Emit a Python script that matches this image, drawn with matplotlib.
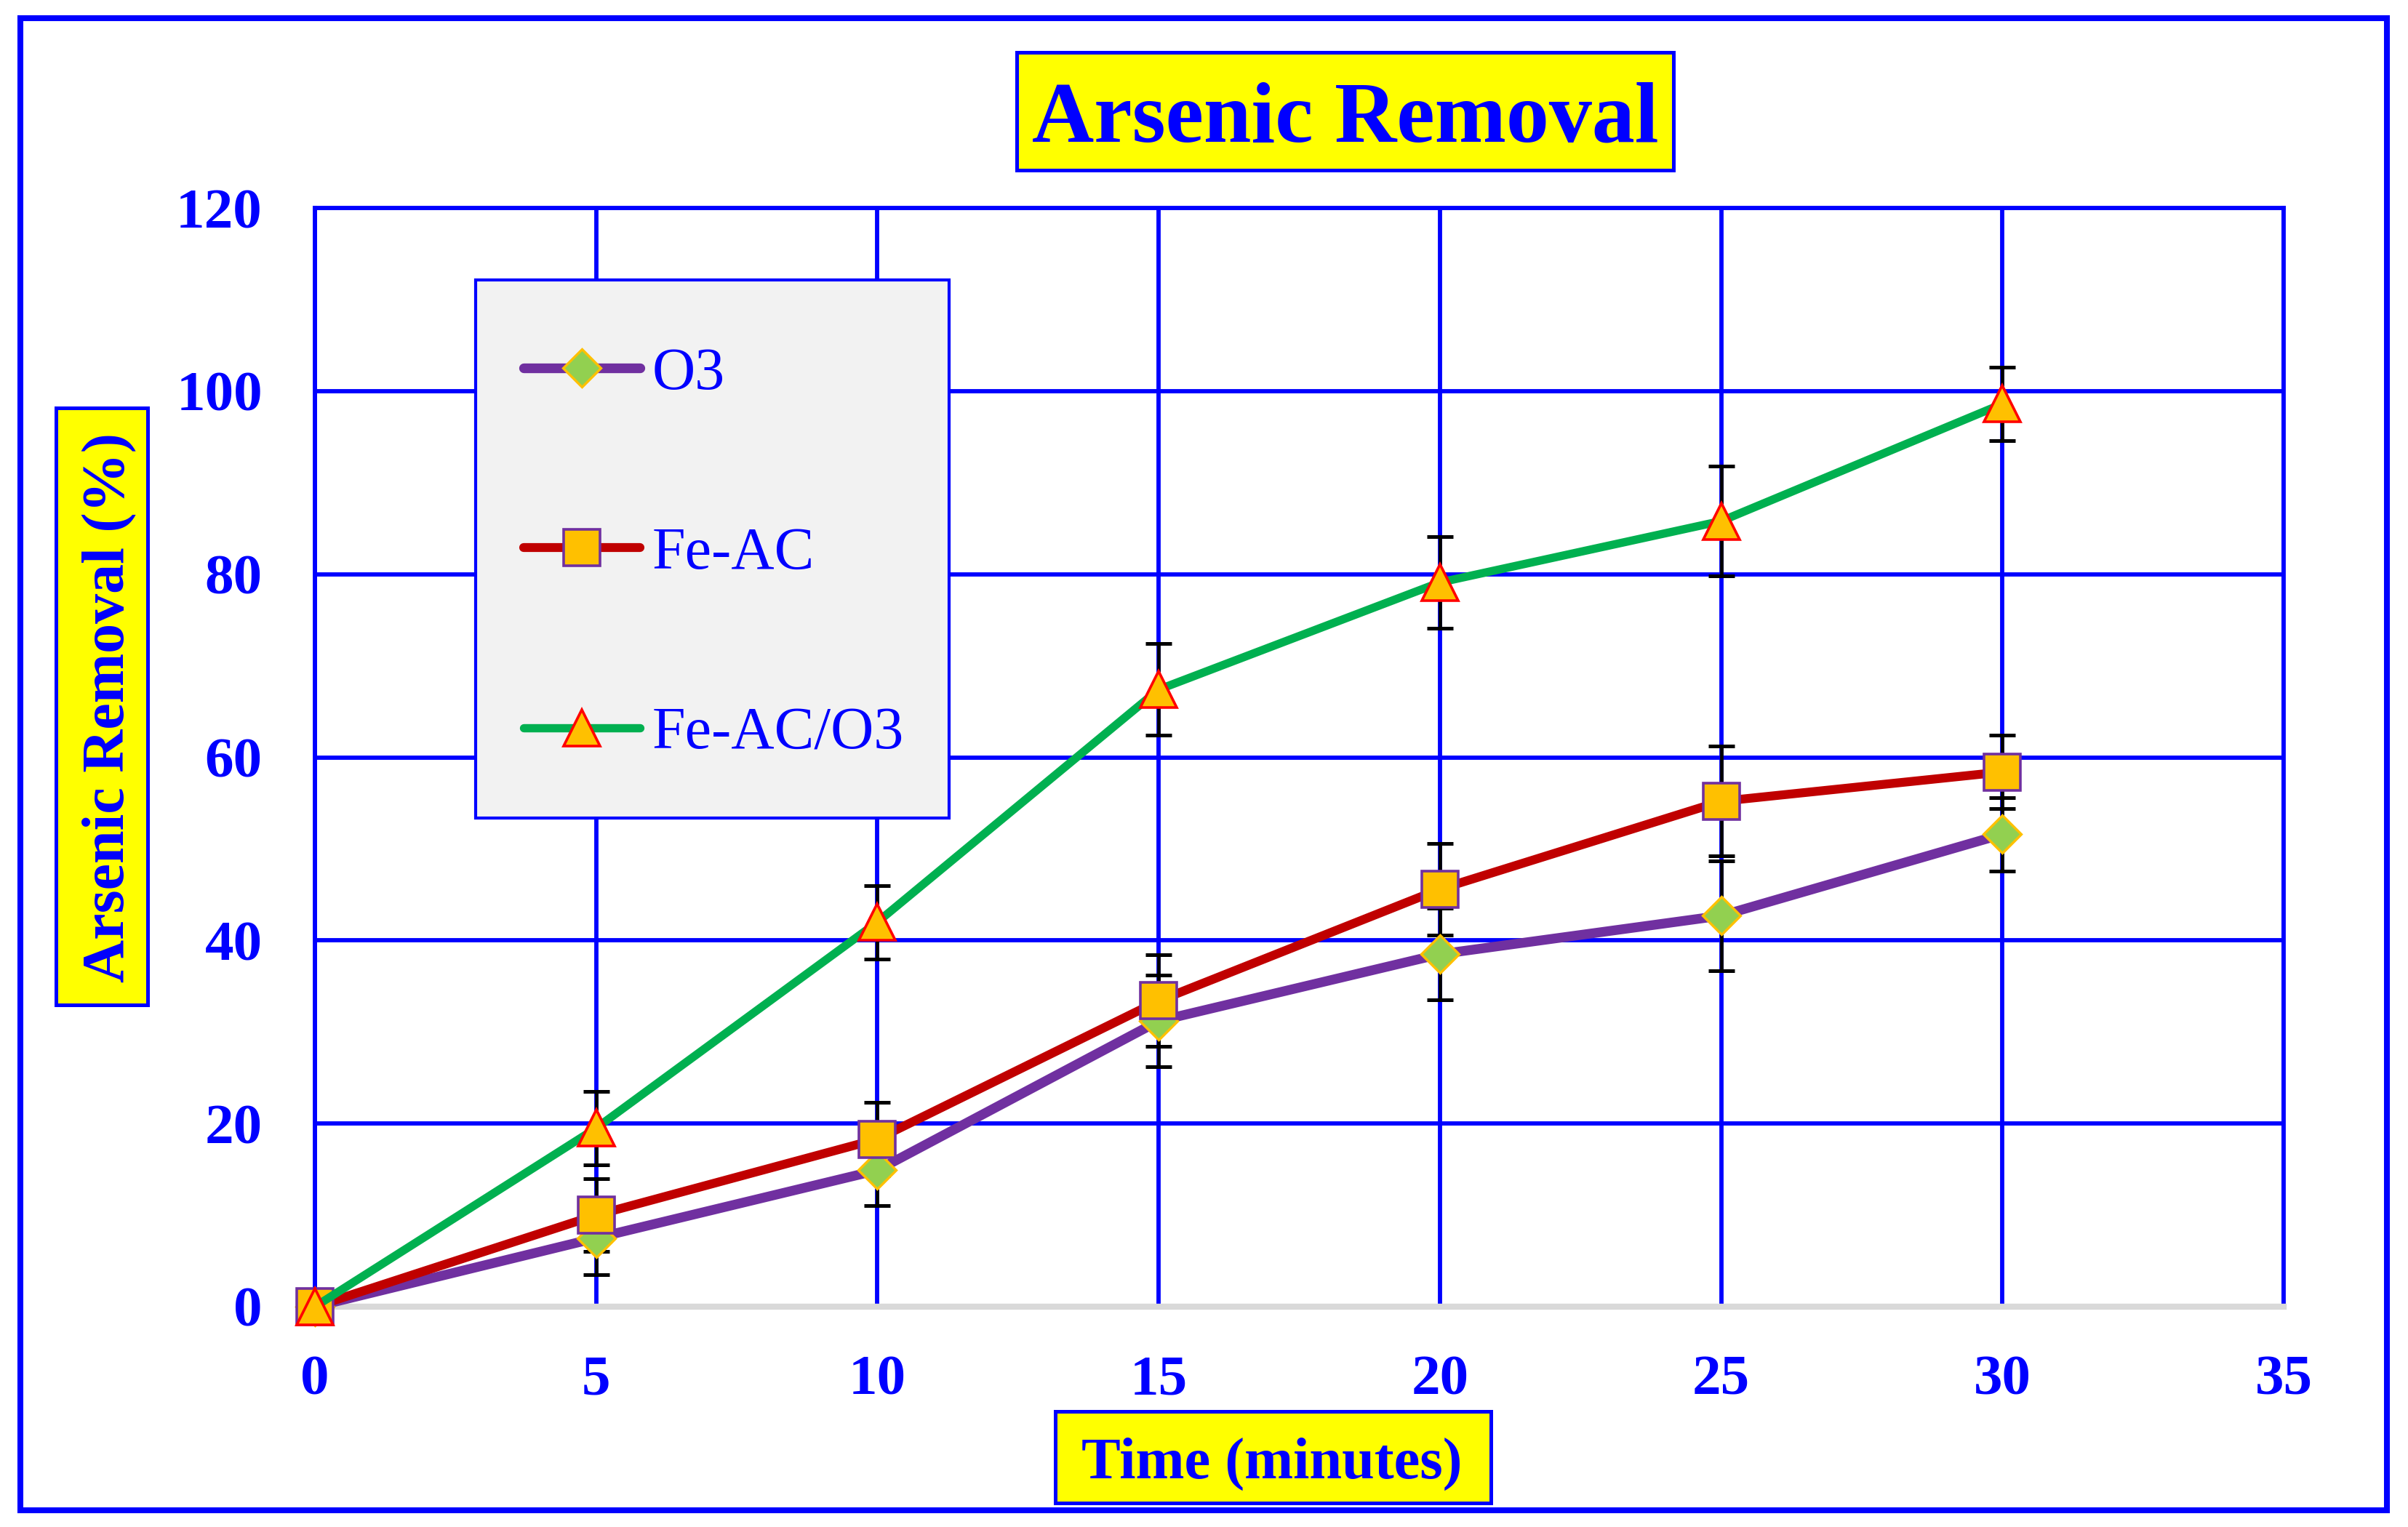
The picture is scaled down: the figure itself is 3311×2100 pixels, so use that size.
import matplotlib
matplotlib.use('Agg')
import matplotlib.pyplot as plt
from matplotlib.patches import Rectangle

# ---------------- data ----------------
time_min = [0, 5, 10, 15, 20, 25, 30]
o3 = [0, 7.5, 14.9, 31.2, 38.5, 42.7, 51.6]
o3_err = [0, 4, 3.9, 5, 5, 6, 4]
fe_ac = [0, 10.0, 18.3, 33.4, 45.6, 55.2, 58.4]
fe_ac_err = [0, 4, 4, 5, 5, 6, 4]
fe_ac_o3 = [0, 19.5, 42.0, 67.4, 79.1, 85.8, 98.6]
fe_ac_o3_err = [0, 4, 4, 5, 5, 6, 4]
series_labels = ['O3', 'Fe-AC', 'Fe-AC/O3']
x_ticks = [0, 5, 10, 15, 20, 25, 30, 35]
y_ticks = [0, 20, 40, 60, 80, 100, 120]
title_text = 'Arsenic Removal'
xlabel_text = 'Time (minutes)'
ylabel_text = 'Arsenic Removal (%)'

# ---------------- style ----------------
plt.rcParams['font.family'] = ['Liberation Serif', 'DejaVu Serif']
BLUE = '#0000FF'
W, H = 3312, 2100
DPI = 200


def fx(px):
    return px / W


def fy(py):
    return 1 - py / H


fig = plt.figure(figsize=(W / DPI, H / DPI), dpi=DPI)
fig.patch.set_facecolor('white')

ax_l, ax_r, ax_t, ax_b = 433, 3140, 286, 1797
ax = fig.add_axes([fx(ax_l), fy(ax_b), (ax_r - ax_l) / W, (ax_b - ax_t) / H])

ax.set_xlim(0, 35)
ax.set_ylim(0, 120)
ax.set_xticks(x_ticks)
ax.set_yticks(y_ticks)
ax.grid(True, color=BLUE, linewidth=2.1, zorder=0.5)
ax.set_axisbelow(True)
ax.tick_params(axis='both', length=0, labelcolor=BLUE, labelsize=28.5)
ax.tick_params(axis='y', pad=26)
ax.tick_params(axis='x', pad=24)
for lab in ax.get_xticklabels() + ax.get_yticklabels():
    lab.set_fontweight('bold')

for side in ['left', 'top', 'right']:
    ax.spines[side].set_color(BLUE)
    ax.spines[side].set_linewidth(2.1)
ax.spines['bottom'].set_color('#D9D9D9')
ax.spines['bottom'].set_linewidth(3.0)

series = [
    (o3, o3_err, dict(color='#7030A0', lw=4.8, marker='D', ms=13.2,
                      mfc='#92D050', mec='#FFC000', mew=1.2)),
    (fe_ac, fe_ac_err, dict(color='#C00000', lw=4.4, marker='s', ms=18,
                            mfc='#FFC000', mec='#7030A0', mew=1.3)),
    (fe_ac_o3, fe_ac_o3_err, dict(color='#00B050', lw=4.1, marker='^', ms=18,
                                  mfc='#FFC000', mec='#FF0000', mew=1.3)),
]

for vals, err, _ in series:
    ax.errorbar(time_min, vals, yerr=err, fmt='none', ecolor='black',
                elinewidth=1.7, capsize=6.5, capthick=1.8, zorder=3,
                clip_on=False)

handles = []
for (vals, err, st), lab in zip(series, series_labels):
    h, = ax.plot(time_min, vals, color=st['color'], linewidth=st['lw'],
                 marker=st['marker'], markersize=st['ms'],
                 markerfacecolor=st['mfc'], markeredgecolor=st['mec'],
                 markeredgewidth=st['mew'], solid_capstyle='round',
                 zorder=4, clip_on=False, label=lab)
    handles.append(h)

# legend frame (drawn separately to match the box size)
ax.add_patch(Rectangle((fx(654), fy(1125)), (1305 - 654) / W, (1125 - 385) / H,
                       transform=fig.transFigure, facecolor='#F2F2F2',
                       edgecolor=BLUE, linewidth=1.5, zorder=5, clip_on=False))

leg = ax.legend(handles=handles, loc='upper left',
                bbox_to_anchor=(fx(720), fy(477)),
                bbox_transform=fig.transFigure, borderaxespad=0,
                prop={'family': 'Liberation Serif', 'size': 29.5},
                labelcolor=BLUE, handlelength=1.95, handletextpad=0.2,
                labelspacing=2.1, borderpad=0.0, frameon=False)
leg.set_zorder(6)


def label_box(x0, y0, x1, y1):
    fig.patches.append(Rectangle((fx(x0), fy(y1)), (x1 - x0) / W, (y1 - y0) / H,
                                 transform=fig.transFigure, facecolor='#FFFF00',
                                 edgecolor=BLUE, linewidth=1.8, zorder=1))


# title
label_box(1398, 72, 2301, 234)
fig.text(fx(1850), fy(194), title_text, ha='center', va='baseline',
         fontsize=42.5, fontweight='bold', color=BLUE, zorder=2)

# y label
label_box(77, 561, 203, 1382)
fig.text(fx(170), fy(973), ylabel_text, ha='center', va='baseline',
         rotation=90, rotation_mode='anchor',
         fontsize=29.5, fontweight='bold', color=BLUE, zorder=2)

# x label
label_box(1451, 1941, 2050, 2067)
fig.text(fx(1749), fy(2033), xlabel_text, ha='center', va='baseline',
         fontsize=29, fontweight='bold', color=BLUE, zorder=2)

# outer frame
fig.patches.append(Rectangle((fx(28), fy(2077)), (3282 - 28) / W, (2077 - 25) / H,
                             transform=fig.transFigure, facecolor='none',
                             edgecolor=BLUE, linewidth=2.9, zorder=1))

fig.savefig('out.png', dpi=DPI)
